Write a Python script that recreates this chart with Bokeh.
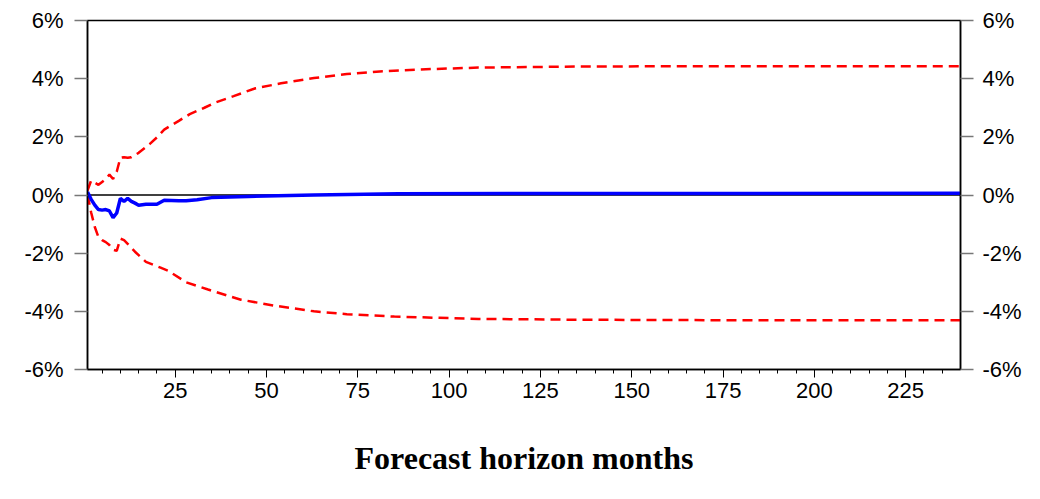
from bokeh.plotting import figure
from bokeh.models import Range1d, LinearAxis, FixedTicker, CustomJSTickFormatter, Span
from bokeh.embed import file_html
from bokeh.resources import INLINE

# Forecast horizon (months) and values (%)
h_upper = [1, 2, 3, 4, 5, 6, 7, 8, 9, 10, 11, 12, 13, 15, 18, 20, 22, 26, 29, 33, 36, 41,
           47, 54, 63, 72, 81, 95, 108, 136, 190, 240]
upper = [0.15, 0.5, 0.42, 0.35, 0.45, 0.55, 0.7, 0.55, 0.8, 1.28, 1.3, 1.28, 1.3, 1.45, 1.75,
         1.98, 2.25, 2.55, 2.78, 3.0, 3.18, 3.4, 3.67, 3.84, 4.02, 4.16, 4.25, 4.33, 4.38,
         4.42, 4.43, 4.43]

h_lower = [1, 2, 3, 4, 5, 6, 7, 8, 9, 10, 11, 12, 14, 17, 21, 23, 28, 34, 43, 52, 63, 72,
           85, 108, 136, 190, 240]
lower = [0.0, -0.6, -1.1, -1.45, -1.55, -1.62, -1.72, -1.88, -1.92, -1.5, -1.55, -1.68,
         -1.95, -2.3, -2.5, -2.6, -3.0, -3.25, -3.6, -3.8, -4.0, -4.1, -4.18, -4.26, -4.29,
         -4.31, -4.31]

h_resp = [1, 2, 3, 4, 5, 6, 7, 8, 9, 10, 11, 12, 13, 14, 15, 17, 20, 22, 26, 28, 31, 35,
          45, 63, 86, 120, 240]
resp = [0.1, -0.15, -0.35, -0.5, -0.52, -0.5, -0.55, -0.78, -0.62, -0.12, -0.22, -0.12,
        -0.22, -0.28, -0.35, -0.32, -0.32, -0.18, -0.2, -0.2, -0.16, -0.09, -0.05, 0.0,
        0.04, 0.05, 0.06]

x_major = [25, 50, 75, 100, 125, 150, 175, 200, 225]
x_minor = list(range(5, 240, 5))
y_ticks = [-6, -4, -2, 0, 2, 4, 6]
x_title = "Forecast horizon months"

p = figure(width=1024, height=483, x_range=Range1d(1, 240), y_range=Range1d(-6, 6),
           output_backend="svg", toolbar_location=None,
           min_border_left=87, min_border_right=61, min_border_top=20, min_border_bottom=114)
p.background_fill_color = "white"
p.border_fill_color = "white"
p.xgrid.visible = False
p.ygrid.visible = False
p.outline_line_color = "black"
p.outline_line_width = 1.5

fmt = CustomJSTickFormatter(code="return tick.toFixed(0) + '%';")

# x axis
xa = p.xaxis[0]
xa.ticker = FixedTicker(ticks=x_major, minor_ticks=x_minor)
xa.axis_line_color = "black"
xa.axis_line_width = 1.5
xa.major_tick_line_color = "black"
xa.minor_tick_line_color = "black"
xa.major_tick_in = 0
xa.major_tick_out = 8
xa.minor_tick_in = 0
xa.minor_tick_out = 4
xa.major_label_text_font = "Liberation Sans"
xa.major_label_text_font_size = "22px"
xa.major_label_text_color = "black"
xa.major_label_standoff = 5
xa.axis_label = x_title
xa.axis_label_text_font = "Liberation Serif"
xa.axis_label_text_font_style = "bold"
xa.axis_label_text_font_size = "32px"
xa.axis_label_text_color = "black"
xa.axis_label_standoff = 39

def style_y(ax, standoff):
    ax.ticker = FixedTicker(ticks=y_ticks, minor_ticks=[])
    ax.formatter = fmt
    ax.axis_line_color = "black"
    ax.axis_line_width = 1.5
    ax.major_tick_line_color = "#777777"
    ax.major_tick_line_width = 1.5
    ax.major_tick_in = 0
    ax.major_tick_out = 13
    ax.minor_tick_line_color = None
    ax.major_label_text_font = "Liberation Sans"
    ax.major_label_text_font_size = "22px"
    ax.major_label_text_color = "black"
    ax.major_label_standoff = standoff

style_y(p.yaxis[0], 11)
ra = LinearAxis()
style_y(ra, 9)
p.add_layout(ra, "right")

zero = Span(location=0, dimension="width", line_color="black", line_width=1.5, level="underlay")
p.add_layout(zero)

p.line(h_upper, upper, line_color="#FF0000", line_width=2.5, line_dash="10 6")
p.line(h_lower, lower, line_color="#FF0000", line_width=2.5, line_dash="10 6")
p.line(h_resp, resp, line_color="#0000FF", line_width=3.5)

open("out.html", "w").write(file_html(p, INLINE))
